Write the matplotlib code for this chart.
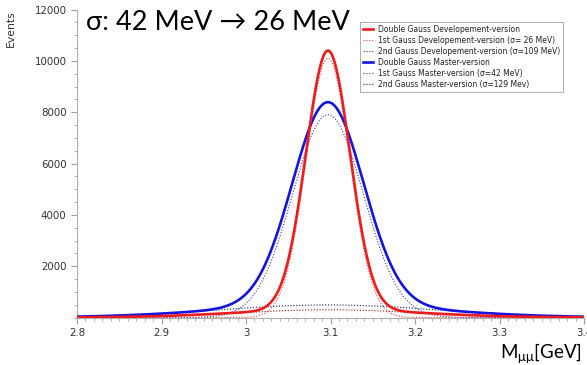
import numpy as np
import matplotlib
matplotlib.use("Agg")
import matplotlib.pyplot as plt
from matplotlib.ticker import MultipleLocator

mean_gev = 3.097
dev_amplitudes = [10100, 300]      # 1st, 2nd Gauss (Developement-version)
dev_sigmas = [0.026, 0.109]
master_amplitudes = [7900, 490]    # 1st, 2nd Gauss (Master-version)
master_sigmas = [0.042, 0.129]

legend_labels = [
    "Double Gauss Developement-version",
    "1st Gauss Developement-version (\u03c3= 26 MeV)",
    "2nd Gauss Developement-version (\u03c3=109 MeV)",
    "Double Gauss Master-version",
    "1st Gauss Master-version (\u03c3=42 MeV)",
    "2nd Gauss Master-version (\u03c3=129 Mev)",
]
x_ticks = [2.8, 2.9, 3.0, 3.1, 3.2, 3.3, 3.4]
x_ticklabels = ["2.8", "2.9", "3", "3.1", "3.2", "3.3", "3.4"]
y_ticks = [2000, 4000, 6000, 8000, 10000, 12000]

def gauss(x, a, s):
    return a * np.exp(-0.5 * ((x - mean_gev) / s) ** 2)

x = np.linspace(2.8, 3.4, 1201)
d1 = gauss(x, dev_amplitudes[0], dev_sigmas[0])
d2 = gauss(x, dev_amplitudes[1], dev_sigmas[1])
m1 = gauss(x, master_amplitudes[0], master_sigmas[0])
m2 = gauss(x, master_amplitudes[1], master_sigmas[1])

fig = plt.figure(figsize=(5.87, 3.65), dpi=100)
ax = fig.add_axes([77/587, 1-317.5/365, (584-77)/587, (317.5-9.5)/365])

dot = (0, (1, 1.6))
ax.plot(x, d1 + d2, color="#ee1c1c", lw=1.9, label=legend_labels[0], zorder=5)
ax.plot(x, d1, color="#e04848", lw=0.8, ls=dot, label=legend_labels[1])
ax.plot(x, d2, color="#8e1c1c", lw=0.8, ls=dot, label=legend_labels[2])
ax.plot(x, m1 + m2, color="#1414e0", lw=1.9, label=legend_labels[3], zorder=4)
ax.plot(x, m1, color="#3c3ca8", lw=0.8, ls=dot, label=legend_labels[4])
ax.plot(x, m2, color="#1c1c70", lw=0.8, ls=dot, label=legend_labels[5])

ax.set_xlim(2.8, 3.4)
ax.set_ylim(0, 12000)
ax.set_xticks(x_ticks)
ax.set_xticklabels(x_ticklabels)
ax.set_yticks(y_ticks)
ax.xaxis.set_minor_locator(MultipleLocator(0.01))
ax.yaxis.set_minor_locator(MultipleLocator(500))
for s in ["top", "right"]:
    ax.spines[s].set_visible(False)
for s in ["left", "bottom"]:
    ax.spines[s].set_color("#b0b0b0")
    ax.spines[s].set_linewidth(0.8)
ax.tick_params(which="both", colors="#a0a0a0", labelcolor="#333333", labelsize=7.4)
ax.tick_params(which="major", length=4)
ax.tick_params(which="minor", length=2.5)

fig.text(11/587, 1-29/365, "Events", rotation=90, ha="center", va="center",
         fontsize=7.8, color="#333333")
fig.text(86/587, 1-23/365, "\u03c3: 42 MeV \u2192 26 MeV", ha="left", va="center",
         fontsize=19.5, family=["Lato", "DejaVu Sans"], color="black")
fig.text(582/587, 1-354/365, r"M$_{\mathregular{\mu\mu}}$[GeV]", ha="right", va="center",
         fontsize=13.5, family=["Lato", "DejaVu Sans"], color="black")

leg = ax.legend(loc="upper left", bbox_to_anchor=((360-77)/507, 1-(22-9.5)/308),
                fontsize=5.5, frameon=True, fancybox=False, handlelength=1.3,
                handletextpad=0.6, borderpad=0.4, labelspacing=0.25, borderaxespad=0)
leg.get_frame().set_edgecolor("#888888")
leg.get_frame().set_linewidth(0.6)
for t in leg.get_texts():
    t.set_color("#222222")

fig.savefig("out.png", dpi=100)
